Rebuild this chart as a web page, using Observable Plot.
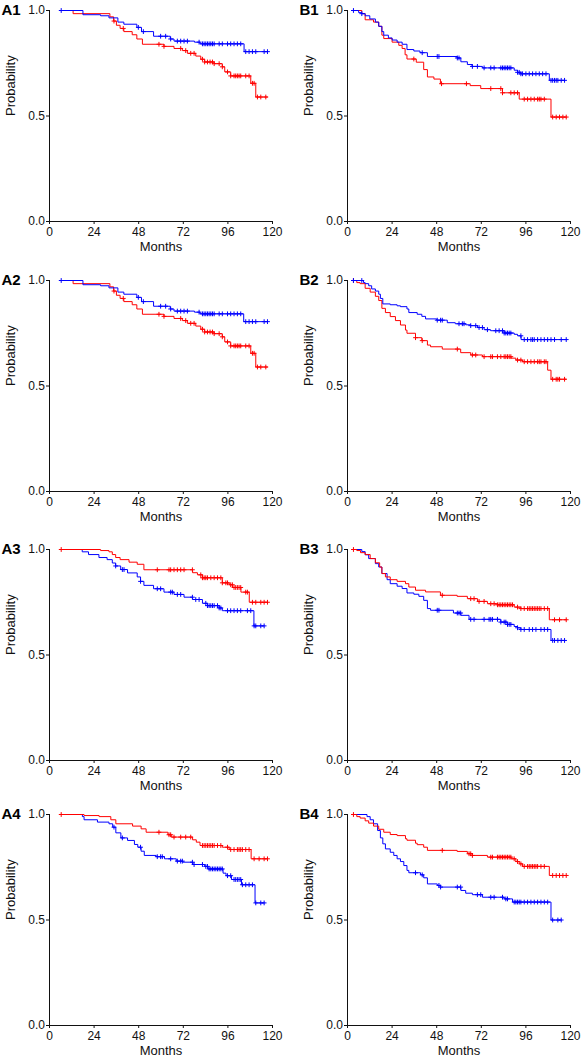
<!DOCTYPE html>
<html>
<head>
<meta charset="utf-8">
<script src="https://cdn.jsdelivr.net/npm/d3@7"></script>
<script src="https://cdn.jsdelivr.net/npm/@observablehq/plot@0.6"></script>
<style>
  html, body { margin: 0; padding: 0; background: #fff; }
  #wrap { position: relative; width: 581px; height: 1058px; overflow: hidden; background: #fff; }
  .panel { position: absolute; }
</style>
</head>
<body>
<div id="wrap"></div>
<script>
// ---------- DATA: Kaplan–Meier step points [month, probability] and censor times (months) ----------
const xTicks = [0, 24, 48, 72, 96, 120];
const yTicks = [0, 0.5, 1.0];
const panelLabels = ["A1", "B1", "A2", "B2", "A3", "B3", "A4", "B4"];

// A1
const a1BlueSteps = [[6.3,1],[18,0.98],[27.5,0.975],[32,0.965],[36.8,0.945],[40,0.935],[47,0.92],[49.5,0.9],[56,0.878],[65,0.865],[67,0.855],[78,0.85],[81,0.842],[104.7,0.805],[117.3,0.805]];
const a1BlueCens = [6.3,47.8,50.5,59.8,62.5,65.2,68.8,70.6,72.4,74.2,80.5,82.3,83.2,84.1,85,85.9,86.8,87.7,88.6,91.3,93,95.8,97.5,99.3,101.1,102.9,105.6,107.4,109.2,111,115.5,117.3];
const a1RedSteps = [[6.3,1],[12.7,0.985],[32.5,0.97],[34.5,0.95],[36,0.93],[38,0.915],[40,0.9],[44.5,0.885],[47,0.865],[50,0.84],[61.6,0.83],[67,0.82],[71.5,0.81],[74.2,0.797],[78.7,0.784],[81.4,0.769],[83.5,0.756],[88.6,0.748],[93,0.733],[94.3,0.709],[97.5,0.69],[108.3,0.655],[111,0.59],[117.3,0.59]];
const a1RedCens = [34.7,39.7,58.9,61.6,70.6,73.3,76,77.8,82.3,83.5,85,86.4,87.7,88.6,91.3,93,95.8,97.5,99.3,100.2,101.1,102,102.9,105.6,107.4,109.2,110.1,111.9,113.7,116.4];

// A2
const a2BlueSteps = [[6.3,1],[18,0.98],[27.5,0.975],[32,0.965],[36.8,0.945],[40,0.935],[47,0.92],[49.5,0.9],[56,0.878],[65,0.865],[67,0.855],[78,0.85],[81,0.842],[104.5,0.805],[117.3,0.805]];
const a2BlueCens = [6.3,47.8,50.5,59.8,62.5,65.2,68.8,70.6,72.4,74.2,80.5,82.3,83.2,84.1,85,85.9,86.8,87.7,88.6,91.3,93,95.8,97.5,99.3,101.1,102.9,105.6,107.4,109.2,111,115.5,117.3];
const a2RedSteps = [[6.3,1],[12.7,0.985],[32.5,0.97],[34.5,0.95],[36,0.93],[38,0.915],[40,0.9],[44.5,0.885],[47,0.865],[50,0.84],[61.6,0.83],[67,0.82],[71.5,0.81],[74.2,0.797],[78.7,0.784],[81.4,0.769],[83.5,0.756],[88.6,0.748],[93,0.733],[94.3,0.709],[97.5,0.69],[108.3,0.655],[111,0.59],[117.3,0.59]];
const a2RedCens = [34.7,39.7,58.9,61.6,70.6,73.3,76,77.8,82.3,83.5,85,86.4,87.7,88.6,91.3,93,95.8,97.5,99.3,100.2,101.1,102,102.9,105.6,107.4,109.2,110.1,111.9,113.7,116.4];

// A3
const a3BlueSteps = [[6.3,1],[17.6,0.989],[21,0.976],[26.6,0.962],[31,0.952],[33.8,0.936],[35.6,0.922],[38.3,0.905],[42,0.889],[47.2,0.87],[49,0.849],[50.8,0.83],[56,0.814],[61.6,0.798],[67,0.787],[72.4,0.774],[77,0.763],[82.3,0.745],[85,0.734],[91.3,0.723],[93,0.71],[110,0.638],[115.5,0.638]];
const a3BlueCens = [35.6,39.2,40.1,49,58,59.8,65.2,66.1,68.8,70.6,76.9,78.7,80.5,84.1,85,85.9,86.8,87.7,88.6,90.4,91.3,92.2,95.8,97.5,99.3,101.1,102.9,106.5,108.3,110.1,111,113.7,115.5];
const a3RedSteps = [[6.3,1],[27.5,0.995],[32,0.989],[33.8,0.976],[35.6,0.962],[38,0.952],[42.8,0.94],[47.2,0.93],[50.8,0.904],[77,0.89],[79.6,0.88],[82.3,0.866],[93,0.842],[96.7,0.833],[98.5,0.82],[103,0.798],[107.5,0.75],[117.3,0.75]];
const a3RedCens = [6.3,58,64.3,65.2,67,68.8,70.6,72.4,76.9,81.4,82.3,83.2,84.1,85,86.8,88.6,90.4,92.2,93,94.9,95.8,97.5,98.4,99.3,100.2,101.1,102,102.9,105.6,106.5,109.2,111,113.7,115.5,117.3];

// A4
const a4BlueSteps = [[6.3,1],[17.7,0.99],[18.6,0.975],[25.8,0.964],[32,0.956],[34,0.94],[35.7,0.913],[38.4,0.889],[42,0.877],[45.7,0.858],[47.5,0.845],[49.3,0.826],[51,0.806],[57.4,0.8],[61.9,0.79],[68.2,0.779],[71.8,0.774],[77.2,0.763],[83.5,0.754],[85.3,0.742],[93.4,0.722],[95,0.71],[97.9,0.692],[103.3,0.667],[110.6,0.581],[115.5,0.581]];
const a4BlueCens = [34.7,39.2,49,58,59.8,60.7,65.2,68.8,70.6,71.5,76.9,77.8,82.3,84.1,85,85.9,86.8,87.7,88.6,89.5,90.4,91.3,92.2,93,95.8,97.5,99.3,100.2,101.1,102,102.9,103.8,105.6,107.4,109.2,111,113.7,115.5];
const a4RedSteps = [[6.3,1],[18.6,0.995],[26.7,0.99],[33,0.975],[35.7,0.956],[44.7,0.945],[49.3,0.932],[52,0.916],[63.7,0.904],[65.5,0.893],[77,0.88],[79,0.869],[81,0.853],[93,0.845],[96.7,0.834],[108.5,0.79],[117.3,0.79]];
const a4RedCens = [6.3,58.9,64.3,65.2,67,70.6,73.3,76,82.3,83.2,84.1,85,85.9,86.8,87.7,88.6,90.4,92.2,95.8,97.5,99.3,101.1,102,102.9,103.8,105.6,107.4,110.1,112.8,115.5,117.3];

// B1
const b1BlueSteps = [[3.2,1],[6,0.99],[7.7,0.985],[9.5,0.975],[12,0.96],[15,0.945],[16.8,0.925],[18.5,0.9],[19.5,0.883],[22,0.87],[24,0.86],[26.7,0.85],[29.4,0.84],[32,0.815],[35.7,0.808],[39,0.8],[43,0.782],[59,0.775],[61,0.757],[64.5,0.744],[67,0.735],[72.6,0.728],[89.7,0.717],[91.5,0.707],[93.3,0.7],[108.6,0.669],[116.8,0.669]];
const b1BlueCens = [3.2,7.7,40.2,48.3,49.2,59.1,60,67.2,69.9,73.5,77.1,78.9,82.5,83.4,84.3,85.2,86.1,87,87.9,91.5,92.4,93.3,94.2,96,97.8,99.6,101.4,103.2,105,106.8,109.5,110.4,111.4,112.3,113.2,115,116.8];
const b1RedSteps = [[3.2,1],[7.7,0.985],[9.5,0.956],[14,0.945],[16.8,0.925],[18.5,0.883],[19.5,0.867],[24,0.85],[27.6,0.835],[29.4,0.82],[31,0.79],[32,0.77],[37,0.755],[41,0.72],[43,0.685],[46.5,0.675],[50,0.653],[66,0.644],[71.7,0.63],[83.4,0.61],[92.4,0.58],[109.5,0.495],[117.7,0.495]];
const b1RedCens = [35.7,50.6,64,77.1,82.5,83.4,87.9,89.7,91.5,95.1,96.9,98.7,100.5,102.3,103.2,104.1,105.9,110.4,112.3,114.1,115.9,117.7];

// B2
const b2BlueSteps = [[3.2,1],[8.6,0.99],[9.5,0.985],[11.4,0.975],[13,0.96],[15,0.95],[16.8,0.935],[17.7,0.915],[19,0.889],[23,0.885],[26.7,0.88],[28.5,0.876],[32,0.865],[33,0.848],[37.5,0.84],[40,0.83],[42,0.818],[48,0.812],[53.7,0.8],[58,0.795],[63.6,0.79],[66.3,0.786],[70,0.777],[73.5,0.767],[77,0.762],[84.3,0.751],[89.7,0.745],[91.5,0.738],[93.4,0.72],[117.7,0.72]];
const b2BlueCens = [3.2,7.7,48.3,50.1,51,60,61.8,62.7,66.3,69,70.8,72.6,75.3,79.8,81.6,83.4,84.3,85.2,86.1,87,87.9,93.3,95.1,96.9,98.7,99.6,100.5,102.3,104.1,105.9,107.7,109.5,111.4,115,117.7];
const b2RedSteps = [[3.2,1],[5,0.99],[6.8,0.985],[9.5,0.963],[12.2,0.945],[15,0.925],[16.8,0.905],[18.5,0.868],[20.4,0.848],[23,0.829],[25.8,0.81],[28.5,0.789],[31.2,0.765],[32,0.75],[36.6,0.729],[40,0.715],[43,0.694],[44.7,0.686],[51,0.675],[60.9,0.658],[66.3,0.647],[72.6,0.639],[88,0.632],[90.6,0.623],[94.2,0.615],[107.7,0.575],[109.5,0.532],[117.7,0.532]];
const b2RedCens = [3.2,36.6,40.2,59.1,67.2,69,73.5,77.1,78,80.7,82.5,84.3,85.2,86.1,87,87.9,91.5,93.3,95.1,96.9,98.7,100.5,102.3,103.2,104.1,105.9,106.8,110.4,112.3,113.2,114.1,116.8];

// B3
const b3BlueSteps = [[3.2,1],[7.7,0.99],[9.5,0.975],[11.4,0.957],[15,0.933],[16.8,0.917],[18.5,0.886],[21.3,0.857],[23,0.838],[26.7,0.826],[29.4,0.815],[32,0.794],[35.7,0.788],[38.4,0.778],[41,0.759],[43,0.72],[44.7,0.712],[57,0.699],[61,0.688],[65.4,0.669],[82.5,0.656],[86.1,0.645],[89.7,0.635],[91.5,0.629],[93.3,0.621],[109.5,0.569],[116.8,0.569]];
const b3BlueCens = [48.3,49.2,59.1,60,60.9,66.3,68.1,73.5,76.2,77.1,78,80.7,82.5,84.3,85.2,86.1,87,87.9,91.5,93.3,95.1,97.8,99.6,101.4,104.1,105.9,107.7,110.4,111.4,113.2,115,116.8];
const b3RedSteps = [[3.2,1],[5,0.995],[7,0.985],[9.5,0.976],[12.2,0.957],[15,0.937],[17.3,0.917],[18.5,0.886],[20.4,0.87],[23,0.857],[26.7,0.849],[31.2,0.838],[33,0.822],[36.6,0.807],[42,0.799],[50,0.783],[59,0.778],[64.5,0.767],[70,0.754],[75.3,0.743],[80.7,0.738],[89.7,0.727],[93.3,0.72],[108.6,0.667],[117.7,0.667]];
const b3RedCens = [3.2,51,66.3,68.1,70.8,73.5,77.1,78.9,80.7,81.6,82.5,83.4,84.3,85.2,86.1,87,87.9,88.8,91.5,93.3,95.1,96.9,97.8,98.7,99.6,100.5,101.4,102.3,103.2,104.1,105.9,107.7,111.4,114.1,117.7];

// B4
const b4BlueSteps = [[3.2,1],[10.5,0.99],[12.2,0.975],[14,0.956],[16.2,0.924],[17.7,0.889],[19,0.861],[20.4,0.837],[23,0.821],[24.9,0.806],[26.7,0.79],[28.5,0.777],[30.3,0.758],[32,0.735],[33,0.724],[39.3,0.714],[41,0.7],[43,0.671],[48.3,0.664],[50,0.656],[61,0.64],[63.6,0.627],[67.2,0.62],[72.6,0.608],[84.3,0.6],[88.8,0.585],[109.5,0.5],[115,0.5]];
const b4BlueCens = [36.6,40.2,49.2,50.1,59.1,60.9,69.9,71.7,77.1,78.9,83.4,85.2,86.1,89.7,90.6,91.5,92.4,93.3,95.1,96.9,98.7,100.5,102.3,104.1,105.9,107.7,110.4,113.2,115];
const b4RedSteps = [[3.2,1],[5,0.99],[6.8,0.983],[9.5,0.97],[11.4,0.959],[14,0.945],[16.8,0.93],[19.5,0.916],[23,0.905],[26.7,0.9],[31.2,0.885],[32,0.878],[36.6,0.864],[37.5,0.857],[41,0.845],[43,0.83],[59,0.825],[64.5,0.814],[67.2,0.806],[75.3,0.798],[88,0.79],[90.6,0.777],[92.4,0.766],[94.2,0.754],[108.6,0.711],[117.7,0.711]];
const b4RedCens = [3.2,51,65.4,66.3,67.2,77.1,78,80.7,81.6,82.5,83.4,84.3,85.2,86.1,87,87.9,89.7,91.5,93.3,95.1,96.9,97.8,98.7,99.6,100.5,101.4,102.3,104.1,105.9,110.4,112.3,114.1,115.9,117.7];

// ---------- LAYOUT ----------
const panels = [
  {label:"A1", col:0, row:0, blue:a1BlueSteps, blueC:a1BlueCens, red:a1RedSteps, redC:a1RedCens, redTop:false},
  {label:"B1", col:1, row:0, blue:b1BlueSteps, blueC:b1BlueCens, red:b1RedSteps, redC:b1RedCens, redTop:false},
  {label:"A2", col:0, row:1, blue:a2BlueSteps, blueC:a2BlueCens, red:a2RedSteps, redC:a2RedCens, redTop:false},
  {label:"B2", col:1, row:1, blue:b2BlueSteps, blueC:b2BlueCens, red:b2RedSteps, redC:b2RedCens, redTop:false},
  {label:"A3", col:0, row:2, blue:a3BlueSteps, blueC:a3BlueCens, red:a3RedSteps, redC:a3RedCens, redTop:true},
  {label:"B3", col:1, row:2, blue:b3BlueSteps, blueC:b3BlueCens, red:b3RedSteps, redC:b3RedCens, redTop:true},
  {label:"A4", col:0, row:3, blue:a4BlueSteps, blueC:a4BlueCens, red:a4RedSteps, redC:a4RedCens, redTop:true},
  {label:"B4", col:1, row:3, blue:b4BlueSteps, blueC:b4BlueCens, red:b4RedSteps, redC:b4RedCens, redTop:true}
];
const colLeft = [0, 298];
const rowTop = [10, 280, 549, 814];   // y pixel of probability 1.0
const mTop = 10, mBottom = 38, mLeft = 49, mRight = 11, plotH = 211;
const W = mLeft + 223 + mRight;

const BLUE = "#0000ff", RED = "#ff0000";

function valueAt(steps, t) {
  let v = steps[0][1];
  for (const s of steps) { if (s[0] <= t) v = s[1]; else break; }
  return v;
}

const plusSymbol = {
  draw(ctx, size) {
    const r = Math.sqrt(size / Math.PI);
    ctx.moveTo(-r, 0); ctx.lineTo(r, 0);
    ctx.moveTo(0, -r); ctx.lineTo(0, r);
  }
};

function curveMarks(steps, cens, color) {
  const pts = cens.map(t => ({t, p: valueAt(steps, t)}));
  return [
    Plot.line(steps, {x: d => d[0], y: d => d[1], curve: "step-after", stroke: color, strokeWidth: 1}),
    Plot.dot(pts, {x: "t", y: "p", r: 2.4, symbol: plusSymbol, stroke: color, fill: "none", strokeWidth: 1})
  ];
}

const wrap = document.getElementById("wrap");
for (const p of panels) {
  const blueMarks = curveMarks(p.blue, p.blueC, BLUE);
  const redMarks = curveMarks(p.red, p.redC, RED);
  const chart = Plot.plot({
    width: W,
    height: mTop + plotH + mBottom,
    marginTop: mTop, marginBottom: mBottom, marginLeft: mLeft, marginRight: mRight,
    style: {fontFamily: "'Liberation Sans', Arial, sans-serif", fontSize: "12px", color: "#111", background: "transparent", overflow: "visible"},
    x: {domain: [0, 120]},
    y: {domain: [0, 1]},
    marks: [
      Plot.axisX({ticks: xTicks, tickSize: 3, tickPadding: 3, label: null, fontSize: 12, stroke: "#111", fill: "#111"}),
      Plot.axisY({ticks: yTicks, tickFormat: d3.format(".1f"), tickSize: 3, tickPadding: 1.5, label: null, fontSize: 12, stroke: "#111", fill: "#111"}),
      Plot.ruleX([0], {stroke: "#111"}),
      Plot.ruleY([0], {stroke: "#111"}),
      ...(p.redTop ? [...blueMarks, ...redMarks] : [...redMarks, ...blueMarks]),
      Plot.text(["Months"], {frameAnchor: "bottom", lineAnchor: "bottom", dy: 29.5, fontSize: 13, fill: "#111"}),
      Plot.text(["Probability"], {frameAnchor: "left", rotate: -90, lineAnchor: "middle", dx: -39, fontSize: 13, fill: "#111"}),
      Plot.text([p.label], {frameAnchor: "top-left", textAnchor: "start", lineAnchor: "bottom", dx: -48, dy: 4, fontSize: 15, fontWeight: "bold", fill: "#000"})
    ]
  });
  const div = document.createElement("div");
  div.className = "panel";
  div.style.left = colLeft[p.col] + "px";
  div.style.top = (rowTop[p.row] - mTop) + "px";
  div.appendChild(chart);
  wrap.appendChild(div);
}
</script>
</body>
</html>
